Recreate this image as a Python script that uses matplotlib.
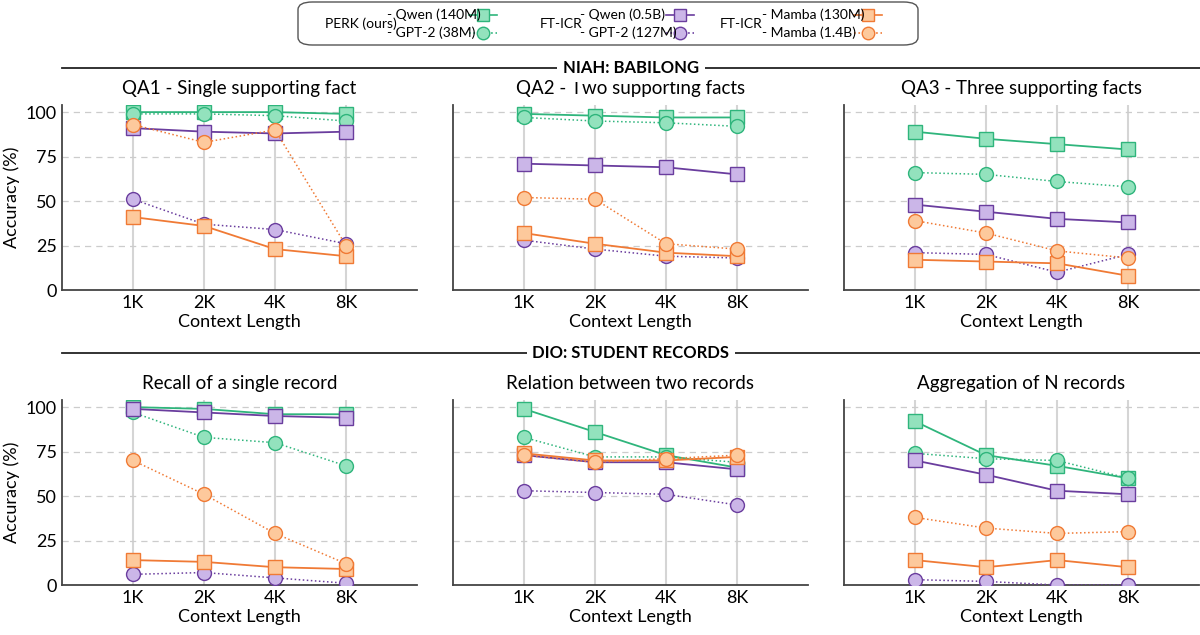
import matplotlib
matplotlib.use("Agg")
import matplotlib.pyplot as plt
from matplotlib.patches import FancyBboxPatch
from matplotlib.lines import Line2D

plt.rcParams['font.family'] = ['Lato', 'DejaVu Sans']

contexts = ["1K", "2K", "4K", "8K"]
titles = ["QA1 - Single supporting fact", "QA2 - Two supporting facts", "QA3 - Three supporting facts",
          "Recall of a single record", "Relation between two records", "Aggregation of N records"]
perk_qwen = [[100, 100, 100, 99], [99, 98, 97, 97], [89, 85, 82, 79],
             [100, 99, 96, 96], [99, 86, 73, 66], [92, 73, 67, 60]]
perk_gpt2 = [[99, 99, 98, 95], [97, 95, 94, 92], [66, 65, 61, 58],
             [97, 83, 80, 67], [83, 72, 72, 69], [74, 71, 70, 60]]
ft_qwen = [[91, 89, 88, 89], [71, 70, 69, 65], [48, 44, 40, 38],
           [99, 97, 95, 94], [73, 69, 69, 65], [70, 62, 53, 51]]
ft_gpt2 = [[51, 37, 34, 26], [28, 23, 19, 18], [21, 20, 10, 20],
           [6, 7, 4, 1], [53, 52, 51, 45], [3, 2, 0, 0]]
mamba_130m = [[41, 36, 23, 19], [32, 26, 21, 19], [17, 16, 15, 8],
              [14, 13, 10, 9], [74, 70, 70, 72], [14, 10, 14, 10]]
mamba_14b = [[93, 83, 90, 25], [52, 51, 26, 23], [39, 32, 22, 18],
             [70, 51, 29, 12], [73, 69, 71, 73], [38, 32, 29, 30]]

G = ('#2fb57c', '#93e2bd')
P = ('#6a3d9e', '#cbb6e8')
O = ('#f07a35', '#fdc99c')
series = [(perk_qwen, G, 's', '-'), (perk_gpt2, G, 'o', ':'),
          (ft_qwen, P, 's', '-'), (ft_gpt2, P, 'o', ':'),
          (mamba_130m, O, 's', '-'), (mamba_14b, O, 'o', ':')]

fig = plt.figure(figsize=(12, 6.35), dpi=100)
W, H = 1200, 635
lefts = [62, 453, 844]
tops = [(105, 290), (400, 585)]
xs = [1, 2, 3, 4]
for i in range(6):
    r, c = divmod(i, 3)
    t, b = tops[r]
    ax = fig.add_axes([lefts[c] / W, 1 - b / H, 355 / W, (b - t) / H])
    ax.set_xlim(0, 5)
    ax.set_ylim(0, 104)
    for x in xs:
        ax.axvline(x, color='#d5d5d5', lw=1.5, zorder=0)
    for y in [25, 50, 75, 100]:
        ax.axhline(y, color='#cccccc', lw=0.9, ls=(0, (5, 4)), zorder=0)
    for data, col, m, ls in series:
        ax.plot(xs, data[i], ls=ls, color=col[0], lw=1.3 if ls == '-' else 1.1,
                marker=m, ms=10, mfc=col[1], mec=col[0], mew=1.0, zorder=3)
    ax.set_xticks(xs)
    ax.set_xticklabels(contexts, fontsize=13)
    ax.set_yticks([0, 25, 50, 75, 100])
    ax.tick_params(length=0, labelsize=13)
    if c == 0:
        ax.set_ylabel("Accuracy (%)", fontsize=13)
    else:
        ax.set_yticklabels([])
    ax.set_xlabel("Context Length", fontsize=13, labelpad=2)
    ax.set_title(titles[i], fontsize=13.5, pad=8)
    for s in ['top', 'right']:
        ax.spines[s].set_visible(False)
    for s in ['left', 'bottom']:
        ax.spines[s].set_color('#444444')
        ax.spines[s].set_linewidth(1.3)

# section headers
for y, txt in [(68, "NIAH: BABILONG"), (353, "DIO: STUDENT RECORDS")]:
    fig.add_artist(Line2D([62 / W, 1], [1 - y / H] * 2, color='#222222', lw=1.3))
    fig.text(631 / W, 1 - y / H, txt, ha='center', va='center', fontsize=12, fontweight='bold',
             bbox=dict(facecolor='white', edgecolor='none', pad=4))

# legend
fig.add_artist(FancyBboxPatch((298 / W, 1 - 45 / H), 620 / W, 43 / H,
                              boxstyle="round,pad=0,rounding_size=0.012", transform=fig.transFigure,
                              facecolor='white', edgecolor='#555555', lw=1.0))
groups = [(325, "PERK (ours)", 387, ["- Qwen (140M)", "- GPT-2 (38M)"], 483, G),
          (540, "FT-ICR", 580, ["- Qwen (0.5B)", "- GPT-2 (127M)"], 680, P),
          (720, "FT-ICR", 762, ["- Mamba (130M)", "- Mamba (1.4B)"], 868, O)]
for gx, gl, tx, labs, mx, col in groups:
    fig.text(gx / W, 1 - 24 / H, gl, fontsize=10, va='center')
    for k, (lab, m, ls) in enumerate(zip(labs, ['s', 'o'], ['-', ':'])):
        yy = 1 - (15 + 18 * k) / H
        fig.text(tx / W, yy, lab, fontsize=10, va='center')
        fig.add_artist(Line2D([(mx - 14) / W, (mx + 14) / W], [yy, yy], color=col[0], ls=ls, lw=1.2))
        fig.add_artist(Line2D([mx / W], [yy], marker=m, ms=9, mfc=col[1], mec=col[0], ls='none'))

fig.savefig("out.png", dpi=100)
